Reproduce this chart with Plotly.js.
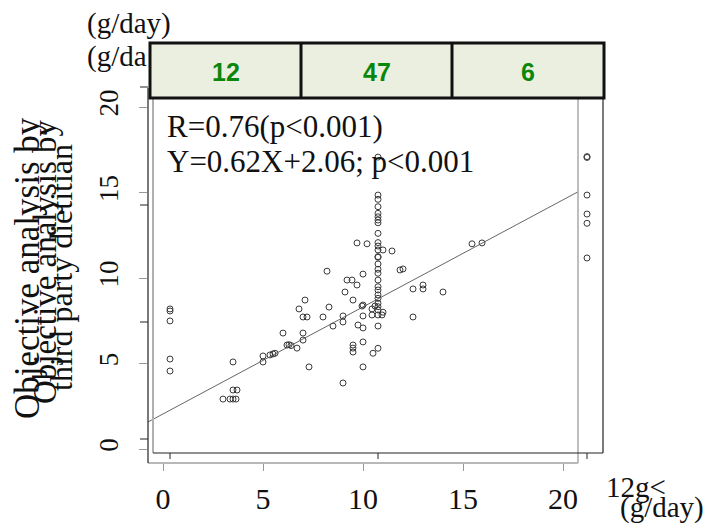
<!DOCTYPE html>
<html>
<head>
<meta charset="utf-8">
<script src="https://cdn.plot.ly/plotly-3.0.1.min.js"></script>
<style>html,body{margin:0;padding:0;background:#fff;}#chart{width:709px;height:523px;}</style>
</head>
<body>
<div id="chart"></div>
<script>
// ---- data ----
var groupCounts = ["12", "47", "6"];
var xTicks = [0, 5, 10, 15, 20];
var yTicks = [0, 5, 10, 15, 20];

var colZeroX = [0.35, 0.35, 0.35, 0.35, 0.35];
var colZeroY = [8.19, 8.07, 7.49, 5.26, 4.56];

var midX = [3.5, 3.5, 3.7, 3.0, 3.35, 3.5, 3.65,
  5.0, 5.0, 5.35, 5.5, 5.6,
  6.0, 6.2, 6.3, 6.4, 6.7, 7.0, 7.0, 7.1, 6.8, 7.0, 7.2, 7.3,
  8.2, 8.3, 8.0, 8.5, 9.0, 9.0, 9.1, 9.2, 9.45, 9.7, 9.5, 9.0, 9.7, 10.2, 10.0, 10.0, 10.0, 9.75, 10.0,
  9.5, 9.5, 9.5, 10.0, 10.0,
  11.0, 11.45, 11.85, 12.0, 9.95, 10.45, 10.6, 10.45, 10.95, 11.0, 10.5,
  12.5, 13.0, 13.0, 14.0, 12.5, 15.45, 15.95];
var midY = [5.09, 3.45, 3.45, 2.92, 2.92, 2.92, 2.92,
  5.44, 5.09, 5.5, 5.56, 5.6,
  6.78, 6.08, 6.1, 6.05, 5.9, 6.78, 6.37, 8.71, 8.19, 7.72, 7.72, 4.8,
  10.4, 8.3, 7.72, 7.19, 7.78, 7.43, 9.18, 9.88, 9.88, 9.59, 8.71, 3.86, 12.05, 12.0, 10.23, 8.42, 7.78, 7.25, 7.08,
  6.08, 5.9, 5.67, 6.26, 4.8,
  11.64, 11.58, 10.47, 10.53, 8.36, 8.19, 8.36, 7.84, 7.84, 8.0, 5.6,
  9.36, 9.59, 9.36, 9.18, 7.72, 12.0, 12.05];

var colMidX = [10.75, 10.75, 10.75, 10.75, 10.75, 10.75, 10.75, 10.75, 10.75, 10.75, 10.75, 10.75, 10.75, 10.75,
  10.75, 10.75, 10.75, 10.75, 10.75, 10.75, 10.75, 10.75, 10.75, 10.75, 10.75, 10.75, 10.75, 10.75];
var colMidY = [17.07, 14.85, 14.6, 14.17, 13.78, 13.58, 13.39, 13.23, 12.61, 12.07, 11.87, 11.64, 11.25, 11.21,
  10.82, 10.51, 10.28, 9.88, 9.49, 9.3, 9.01, 8.81, 8.52, 8.32, 8.13, 7.84, 7.19, 5.89];

var colHighX = [21.2, 21.2, 21.2, 21.2, 21.2, 21.2];
var colHighY = [17.1, 17.05, 14.85, 13.74, 13.2, 11.17];

var fitSlope = 0.626;
var fitIntercept = 2.05;
var fitXRange = [-0.75, 20.75];

var statLine1 = "R=0.76(p<0.001)";
var statLine2 = "Y=0.62X+2.06; p<0.001";

// ---- layout helpers ----
var W = 709, H = 523;
var L = 148, R = 603, T = 88, B = 463;
function px(x) { return (x - L) / (R - L); }
function py(y) { return (B - y) / (B - T); }

var serif = "Liberation Serif, Times New Roman, serif";
var markerStyle = {symbol: "circle-open", size: 6, color: "#3a3a3a", line: {width: 1, color: "#3a3a3a"}};

function pts(xs, ys) {
  return {x: xs, y: ys, type: "scatter", mode: "markers", marker: markerStyle, hoverinfo: "skip", showlegend: false, cliponaxis: false};
}

var fitX = fitXRange.slice();
var fitY = fitX.map(function (v) { return fitSlope * v + fitIntercept; });

var traces = [
  pts(colZeroX, colZeroY),
  pts(midX, midY),
  pts(colMidX, colMidY),
  pts(colHighX, colHighY),
  {x: fitX, y: fitY, type: "scatter", mode: "lines", line: {color: "#555", width: 0.9}, hoverinfo: "skip", showlegend: false}
];

var shapes = [];
function line(x0, y0, x1, y1, color, w) {
  shapes.push({type: "line", xref: "paper", yref: "paper", x0: px(x0), y0: py(y0), x1: px(x1), y1: py(y1),
    line: {color: color, width: w}, layer: "above"});
}
// gray frame
line(148, 463, 578, 463, "#a0a0a0", 1.5);
line(153, 98, 153, 453, "#b0b0b0", 2);
line(578, 98, 578, 463, "#a8a8a8", 1.5);
// black frame
line(148, 88, 148, 463, "#222", 1.2);
line(153, 453, 603, 453, "#222", 1.2);
line(603, 98, 603, 453, "#222", 1.2);
// black ticks
[87, 205, 322, 439].forEach(function (yy) { line(140, yy, 148, yy, "#222", 1); });
[170, 378, 587].forEach(function (xx) { line(xx, 453, xx, 459, "#222", 1); });

// table
var tblX = [150, 301, 452, 604];
shapes.push({type: "rect", xref: "paper", yref: "paper", x0: px(150), x1: px(604), y0: py(98), y1: py(43),
  fillcolor: "#ebefe0", line: {color: "#111", width: 3}, layer: "above"});
line(301, 43, 301, 98, "#111", 3);
line(452, 43, 452, 98, "#111", 3);

var annotations = [];
function txt(text, x, y, size, opts) {
  var a = {text: text, xref: "paper", yref: "paper", x: px(x), y: py(y), xanchor: "center", yanchor: "middle",
    showarrow: false, font: {family: serif, size: size, color: "#111"}};
  if (opts) for (var k in opts) a[k] = opts[k];
  annotations.push(a);
}
groupCounts.forEach(function (c, i) {
  txt("<b>" + c + "</b>", (tblX[i] + tblX[i + 1]) / 2, 72, 25,
    {font: {family: "Liberation Sans, Arial, sans-serif", size: 25, color: "#0a870a"}});
});
txt(statLine1, 165, 126, 31, {xanchor: "left"});
txt(statLine2, 165, 161, 31, {xanchor: "left"});
txt("(g/day)", 85, 24, 29, {xanchor: "left"});
txt("(g/da", 85, 56, 29, {xanchor: "left"});
txt("12g<", 636, 487, 29);
txt("(g/day)", 662, 507, 29);
txt("Objective analysis by", 27, 268, 35, {textangle: -90});
txt("Objective analysis by", 45, 262, 33, {textangle: -90});
txt("third party dietitian", 61, 268, 32, {textangle: -90});

var layout = {
  width: W, height: H,
  margin: {l: L, r: W - R, t: T, b: H - B, pad: 0},
  paper_bgcolor: "#fff", plot_bgcolor: "#fff",
  showlegend: false,
  xaxis: {range: [-0.75, 22.0], tickvals: xTicks, ticktext: xTicks.map(String), ticks: "outside", ticklen: 7,
    tickcolor: "#999", tickwidth: 1, showgrid: false, zeroline: false, showline: false,
    tickfont: {family: serif, size: 30, color: "#111"}, ticklabelstandoff: 2},
  yaxis: {range: [(449 - 463) / 17.1, (449 - 88) / 17.1], tickvals: yTicks, ticktext: yTicks.map(String),
    ticks: "outside", ticklen: 8, tickcolor: "#999", tickwidth: 1, showgrid: false, zeroline: false, showline: false,
    tickangle: -90, tickfont: {family: serif, size: 27, color: "#111"}, ticklabelstandoff: 10},
  shapes: shapes,
  annotations: annotations
};

Plotly.newPlot("chart", traces, layout, {displayModeBar: false, staticPlot: true});
</script>
</body>
</html>
